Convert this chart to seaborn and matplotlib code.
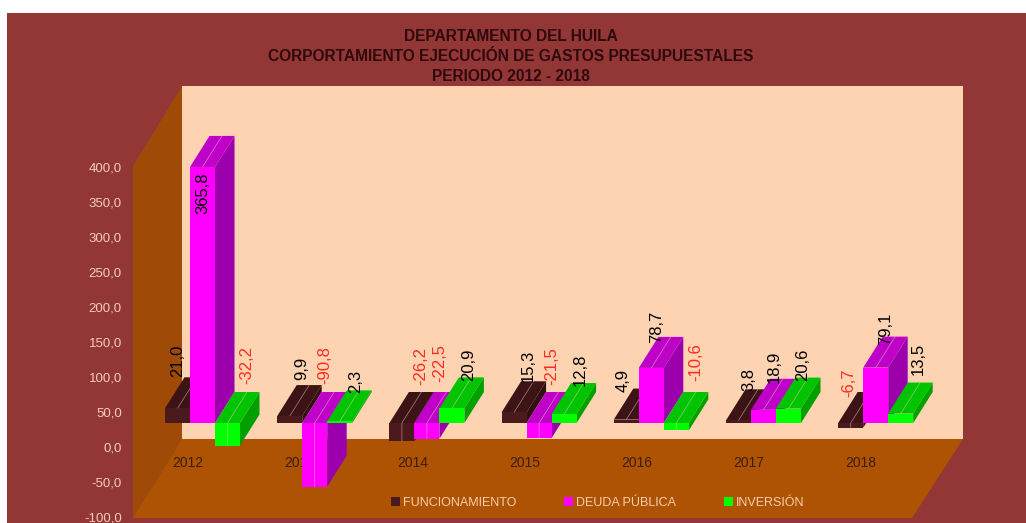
import matplotlib
matplotlib.use("Agg")
import matplotlib.pyplot as plt
from matplotlib.patches import Polygon, Rectangle
import pandas as pd
import seaborn as sns

# Budget execution behaviour, percent change by year
YEARS = ["2012", "2013", "2014", "2015", "2016", "2017", "2018"]
SERIES = ["FUNCIONAMIENTO", "DEUDA PÚBLICA", "INVERSIÓN"]
FUNCIONAMIENTO = [21.0, 9.9, -26.2, 15.3, 4.9, 3.8, -6.7]
DEUDA_PUBLICA = [365.8, -90.8, -22.5, -21.5, 78.7, 18.9, 79.1]
INVERSION = [-32.2, 2.3, 20.9, 12.8, -10.6, 20.6, 13.5]
TICK_VALUES = [-100, -50, 0, 50, 100, 150, 200, 250, 300, 350, 400]
TITLE = ("DEPARTAMENTO DEL HUILA\n"
         "CORPORTAMIENTO EJECUCIÓN DE GASTOS PRESUPUESTALES\n"
         "PERIODO 2012 - 2018")

# Colours per series: front, top and side faces of the prisms
FRONT = ["#4A1A1C", "#FF00FF", "#00FF00"]
TOP = ["#3C1416", "#BE00C8", "#00C400"]
SIDE = ["#301012", "#9C00AC", "#00A000"]

# Scene geometry, in pixels
W, H = 1026, 523
PX_PER_UNIT = 0.7
BAR_ZERO_PX = 423
TICK_ZERO_PX = 447
GROUP_STEP = 112.2
FIRST_GROUP_PX = 202.5
BAR_W = 25.0
DEPTH_X, DEPTH_Y = 19.5, 31.0

# Label offsets from each bar's upper-left front corner, in pixels (right, down)
LABEL_DX = [[13, 25, 31, 27, 9, 23, 11],
            [13, 23, 25, 25, 18, 23, 22],
            [32, 28, 29, 29, 32, 27, 30]]
LABEL_DY = [[-47, -48, -57, -46, -39, -41, -40],
            [26, -58, -60, -57, -41, -43, -39],
            [-58, -40, -44, -44, -61, -44, -55]]

sns.set_theme(style="white")
plt.rcParams["font.family"] = ["Liberation Sans", "DejaVu Sans"]

fig = plt.figure(figsize=(W / 100, H / 100), dpi=100, facecolor="white")

# Chart area, walls and floor drawn in pixel space
scene = fig.add_axes([0, 0, 1, 1], zorder=0)
scene.set_xlim(0, W)
scene.set_ylim(H, 0)
scene.axis("off")
scene.add_patch(Rectangle((7, 13), W - 7, H - 13, fc="#923636", ec="none"))
scene.add_patch(Polygon([(182, 86), (963, 86), (963, 439), (182, 439)],
                        fc="#FDD3B2", ec="none"))
scene.add_patch(Polygon([(133, 166), (182, 86), (182, 439), (133, 518)],
                        fc="#A04A08", ec="none"))
scene.add_patch(Polygon([(133, 518), (182, 439), (963, 439), (912, 518)],
                        fc="#AE5204", ec="none"))
scene.text(511, 56.5, TITLE, ha="center", va="center", fontsize=11.2,
           fontweight="bold", color="#2E0A0C", linespacing=1.44)

# Bars: one axes whose scales place the value zero on the bars' base line
df = pd.DataFrame({
    "year": YEARS * 3,
    "serie": [s for s in SERIES for _ in YEARS],
    "value": FUNCIONAMIENTO + DEUDA_PUBLICA + INVERSION,
})
ax = fig.add_axes([0, 0, 1, 1], zorder=1)
ax.patch.set_visible(False)
sns.barplot(data=df, x="year", y="value", hue="serie", hue_order=SERIES,
            palette=FRONT, saturation=1, width=3 * BAR_W / GROUP_STEP, gap=0,
            linewidth=0, errorbar=None, ax=ax)
ax.set_xlim(-FIRST_GROUP_PX / GROUP_STEP, (W - FIRST_GROUP_PX) / GROUP_STEP)
ax.set_ylim((BAR_ZERO_PX - H) / PX_PER_UNIT, BAR_ZERO_PX / PX_PER_UNIT)
ax.set_xlabel("")
ax.set_ylabel("")
ax.set_yticks([])
ax.tick_params(axis="x", length=0, labelbottom=False)
sns.despine(ax=ax, left=True, bottom=True)

dx = DEPTH_X / GROUP_STEP
dy = DEPTH_Y / PX_PER_UNIT
for s, container in enumerate(ax.containers):
    z = 3 + 2 * s
    for g, bar in enumerate(container):
        x0, w, v = bar.get_x(), bar.get_width(), bar.get_height()
        if bar.get_y() < 0:
            v = bar.get_y()
        hi, lo = max(v, 0), min(v, 0)
        x1 = x0 + w
        ax.add_patch(Polygon([(x1, hi), (x1 + dx, hi + dy), (x1 + dx, lo + dy), (x1, lo)],
                             fc=SIDE[s], ec="none", zorder=z))
        ax.add_patch(Polygon([(x0, hi), (x1, hi), (x1 + dx, hi + dy), (x0 + dx, hi + dy)],
                             fc=TOP[s], ec="none", zorder=z))
        bar.set_zorder(z + 1)

        # Leader line running from the end of the bar towards its label
        cx = x0 + w / 2
        ax.plot([cx, cx, cx + dx], [v, hi, hi + dy], color="#F2D2CC", alpha=0.6,
                lw=0.5, zorder=z + 1.5, solid_capstyle="butt")

        text = f"{v:.1f}".replace(".", ",")
        ax.annotate(text, xy=(x0, hi), xytext=(LABEL_DX[s][g], -LABEL_DY[s][g]),
                    textcoords="offset pixels", rotation=90, ha="center", va="center",
                    fontsize=12, color="#FF2A20" if v < 0 else "black", zorder=20)

sns.move_legend(ax, loc="center left", bbox_to_anchor=(391 / W, 1 - 503 / H), ncol=3,
                frameon=False, title=None, fontsize=9, labelcolor="#F8CFAE",
                handlelength=0.7, handleheight=0.7, handletextpad=0.25,
                columnspacing=3.85, borderpad=0, borderaxespad=0)

# Value axis on the front edge of the left wall, shifted from the bars' base line
shift = (TICK_ZERO_PX - BAR_ZERO_PX) / PX_PER_UNIT
yaxis = ax.secondary_yaxis(133 / W, functions=(lambda v: v + shift, lambda v: v - shift))
yaxis.set_yticks(TICK_VALUES)
yaxis.set_yticklabels([f"{t:.1f}".replace(".", ",") for t in TICK_VALUES])
yaxis.tick_params(length=0, pad=8, labelsize=9.5, labelcolor="#F6CDB4")
yaxis.spines["left"].set_visible(False)

# Year labels across the floor, offset left of the bar groups
year_shift = 14.5 / GROUP_STEP
xaxis = ax.secondary_xaxis(1 - 456 / H, functions=(lambda x: x + year_shift,
                                                   lambda x: x - year_shift))
xaxis.set_xticks(range(len(YEARS)))
xaxis.set_xticklabels(YEARS)
xaxis.tick_params(length=0, pad=0, labelsize=10, labelcolor="#3C200C")
xaxis.spines["bottom"].set_visible(False)

fig.savefig("out.png", dpi=100, facecolor="white")
